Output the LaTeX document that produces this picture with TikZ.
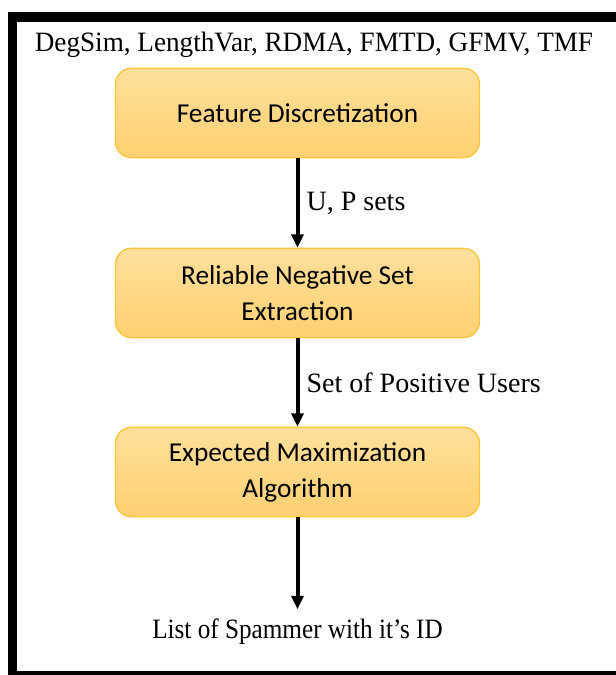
\documentclass[tikz,border=0pt]{standalone}
\usepackage{fontspec}
\setmainfont{Liberation Serif}
\newfontfamily\boxfont{Carlito}
\usetikzlibrary{arrows.meta}

\definecolor{boxtop}{RGB}{255,224,156}
\definecolor{boxbot}{RGB}{255,208,112}
\definecolor{boxline}{RGB}{250,196,60}

\begin{document}
\begin{tikzpicture}[x=0.75pt,y=-0.75pt,
  stepbox/.style={draw=boxline,line width=1pt,rounded corners=12pt,
    top color=boxtop,bottom color=boxbot,
    minimum width=273pt,minimum height=67pt,align=center,
    font=\boxfont\fontsize{20.5}{27}\selectfont},
  flow/.style={line width=3pt,-{Triangle[length=10pt,width=9pt]}},
  lbl/.style={font=\fontsize{21}{25}\selectfont}]

  \useasboundingbox (0,0) rectangle (616,675);

  % frame
  \draw[line width=7pt] (8,17) -- (616,17);
  \draw[line width=7pt] (12.5,13) -- (12.5,675);
  \draw[line width=3pt] (8,673) -- (616,673);

  \node (feat) at (314,45) [lbl,xscale=0.97] {DegSim, LengthVar, RDMA, FMTD, GFMV, TMF};

  \node (fd) at (297.5,113) [stepbox] {Feature Discretization};
  \node (rn) at (297.5,293) [stepbox] {Reliable Negative Set\\Extraction};
  \node (em) at (297.5,472) [stepbox] {Expected Maximization\\Algorithm};

  \node (out) at (297.5,632) [lbl,xscale=0.9] {List of Spammer with it's ID};

  \draw[flow] (fd) -- (rn) node[midway,right,lbl,xshift=2pt] {U, P sets};
  \draw[flow] (rn) -- (em) node[midway,right,lbl,xshift=2pt] {Set of Positive Users};
  \draw[flow,shorten >=4pt] (em) -- (out);

\end{tikzpicture}
\end{document}
